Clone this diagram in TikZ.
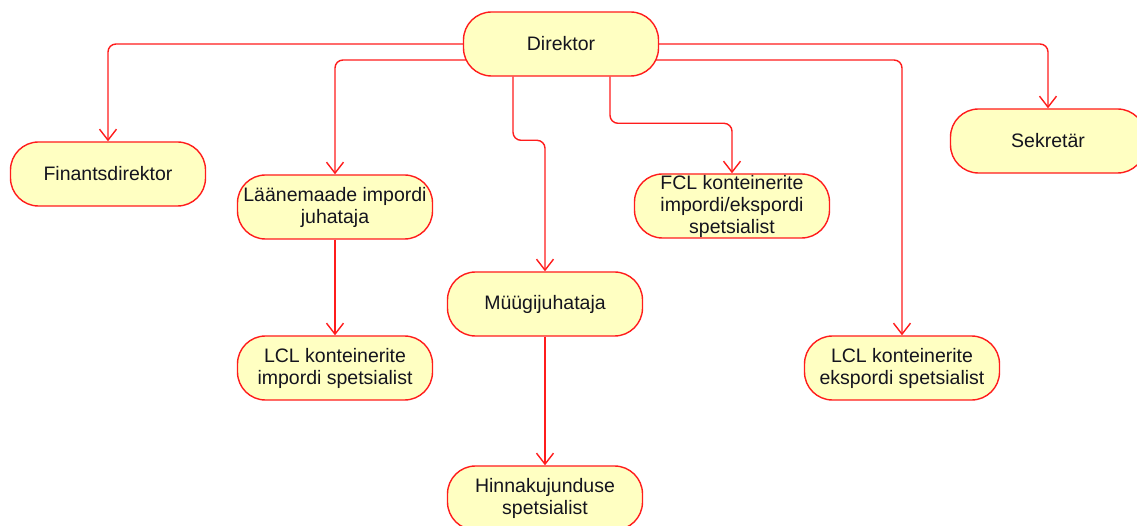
\documentclass[tikz,border=0pt]{standalone}
\usepackage{fontspec}
\setmainfont{Liberation Sans}
\usetikzlibrary{arrows.meta,calc,backgrounds}
\definecolor{boxfill}{RGB}{255,255,194}
\definecolor{linered}{RGB}{255,28,28}
\definecolor{txt}{RGB}{20,20,30}
\tikzset{
  role/.style={draw=linered, line width=1.4pt, fill=boxfill, rounded corners=28pt,
    minimum width=195pt, minimum height=64pt, inner xsep=2pt, inner ysep=0pt,
    align=center, text=txt, font=\fontsize{19.5}{22}\selectfont},
  conn/.style={draw=linered, line width=1.4pt, rounded corners=8pt,
    -{Straight Barb[length=11pt,width=17pt,line width=1.4pt]}}
}
\begin{document}
\begin{tikzpicture}[x=1pt,y=-1pt]
\useasboundingbox (0,0) rectangle (1137,526);

% boxes
\node[role] (dir)   at (561,44)  {Direktor};
\node[role] (fin)   at (108,174) {Finantsdirektor};
\node[role] (laan)  at (335,207) {Läänemaade impordi\\juhataja};
\node[role] (lcli)  at (335,368) {LCL konteinerite\\impordi spetsialist};
\node[role] (myyg)  at (545,304) {Müügijuhataja};
\node[role] (hinna) at (545,498) {Hinnakujunduse\\spetsialist};
\node[role] (fcl)   at (732,206) {FCL konteinerite\\impordi/ekspordi\\spetsialist};
\node[role] (lcle)  at (902,368) {LCL konteinerite\\ekspordi spetsialist};
\node[role] (sek)   at (1048,141) {Sekretär};

% white page and connectors, drawn behind the boxes
\begin{pgfonlayer}{background}
\fill[white] (0,0) rectangle (1137,526);
\draw[conn] (dir) -| (fin);
\draw[conn] ($(dir.center)+(0,16)$) -| (laan);
\draw[conn] ($(dir.south)+(-48,0)$) |- ($(myyg.north)+(0,-131)$) -- (myyg.north);
\draw[conn] ($(dir.south)+(49,0)$) |- ($(fcl.north)+(0,-50)$) -- (fcl.north);
\draw[conn] (dir) -| (sek);
\draw[conn] ($(dir.center)+(0,16)$) -| (lcle);
\draw[conn] (laan) -- (lcli);
\draw[conn] (myyg) -- (hinna);
\end{pgfonlayer}
\end{tikzpicture}
\end{document}
